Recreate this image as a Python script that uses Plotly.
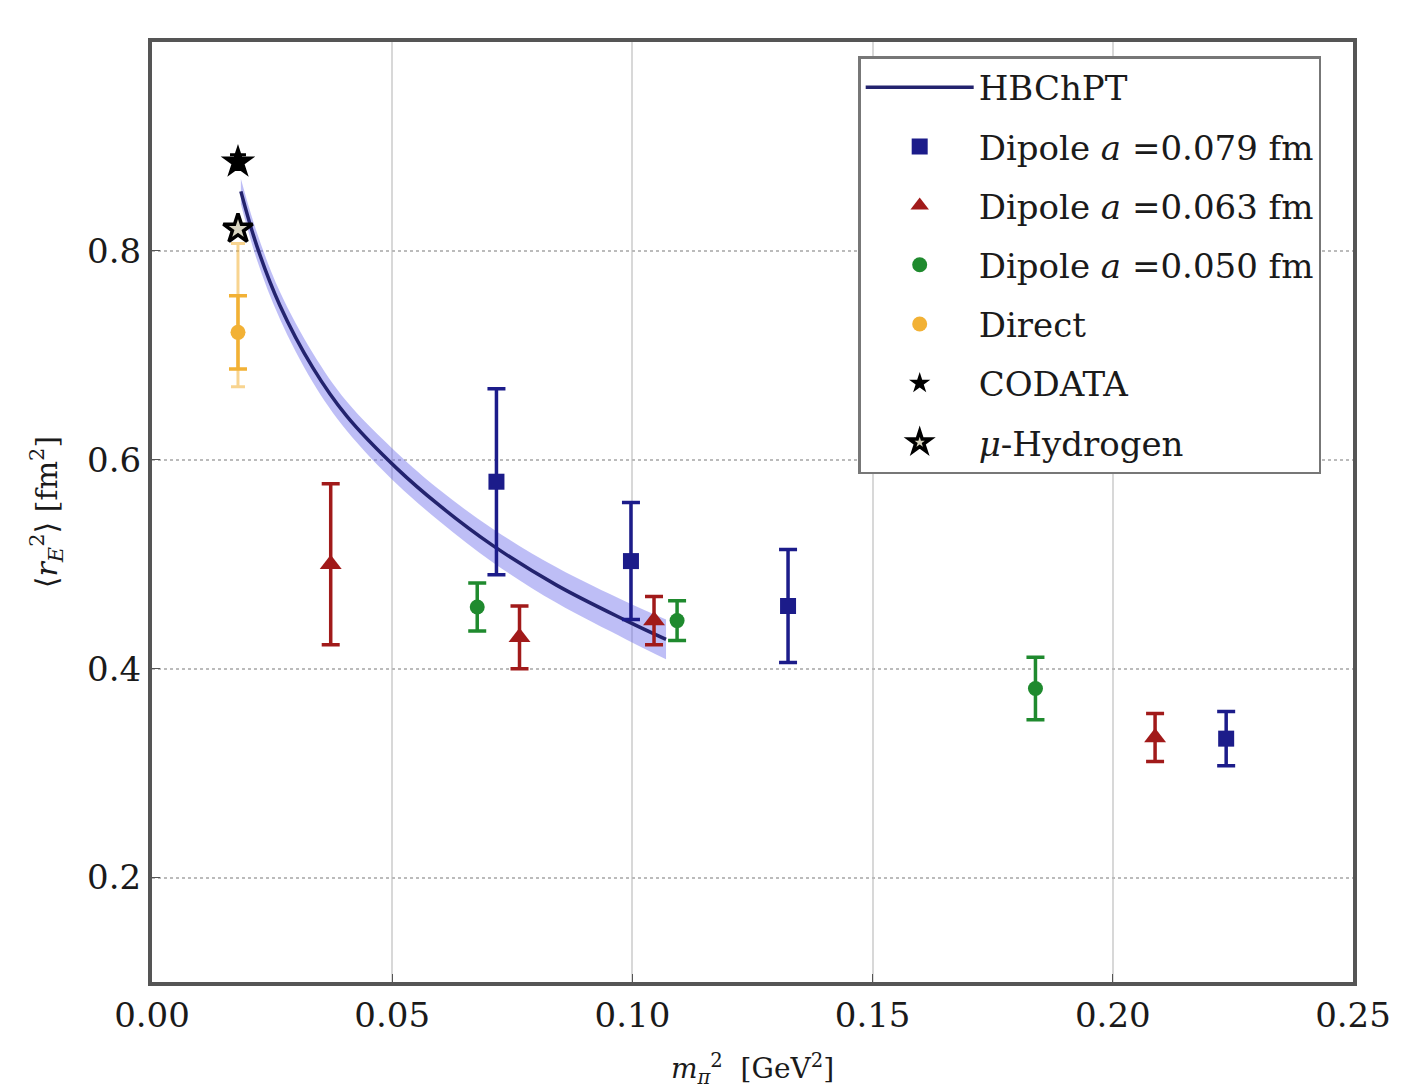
import plotly.graph_objects as go

# ---- data ----
curve_x = [0.0185, 0.0218, 0.0266, 0.0335, 0.0405, 0.0509, 0.0599, 0.0709, 0.0842, 0.0987, 0.107]
curve_y = [0.857, 0.805, 0.748, 0.688, 0.642, 0.592, 0.556, 0.518, 0.480, 0.446, 0.428]
curve_band = [0.012, 0.013, 0.013, 0.014, 0.014, 0.015, 0.015, 0.016, 0.017, 0.018, 0.019]

d079_x = [0.0717, 0.0997, 0.1324, 0.2236]
d079_y = [0.579, 0.503, 0.460, 0.333]
d079_e = [0.089, 0.056, 0.054, 0.026]

d063_x = [0.0372, 0.0765, 0.1045, 0.2088]
d063_y = [0.500, 0.430, 0.446, 0.334]
d063_e = [0.077, 0.030, 0.023, 0.023]

d050_x = [0.0677, 0.1093, 0.1839]
d050_y = [0.459, 0.446, 0.381]
d050_e = [0.023, 0.019, 0.030]

direct_x = [0.0179]
direct_y = [0.722]
direct_e = [0.035]
direct_sys_plus = [0.085]
direct_sys_minus = [0.052]

codata_x = [0.0179]
codata_y = [0.885]
codata_e = [0.007]

muh_x = [0.0179]
muh_y = [0.821]

x_ticks = [0.00, 0.05, 0.10, 0.15, 0.20, 0.25]
x_tick_labels = ["0.00", "0.05", "0.10", "0.15", "0.20", "0.25"]
y_ticks = [0.2, 0.4, 0.6, 0.8]
y_tick_labels = ["0.2", "0.4", "0.6", "0.8"]

FONT = "DejaVu Serif"
NAVY = "#1c1c8a"
RED = "#a11a1a"
GREEN = "#1f8a2e"
ORANGE = "#f2b135"
TXT = "#1a1a1a"

fig = go.Figure()

upper = [y + b for y, b in zip(curve_y, curve_band)]
lower = [y - b for y, b in zip(curve_y, curve_band)]
fig.add_trace(go.Scatter(x=curve_x, y=upper, mode="lines", line=dict(width=0, color="rgba(90,90,230,0.45)"),
                         line_shape="spline", showlegend=False, hoverinfo="skip"))
fig.add_trace(go.Scatter(x=curve_x, y=lower, mode="lines", line=dict(width=0, color="rgba(90,90,230,0.45)"),
                         line_shape="spline", fill="tonexty", fillcolor="rgba(110,110,235,0.45)",
                         showlegend=False, hoverinfo="skip"))
fig.add_trace(go.Scatter(x=curve_x, y=curve_y, mode="lines", name="HBChPT", line_shape="spline",
                         line=dict(color="#23236e", width=3.5), legendgroup="g1"))

def err_trace(x, y, e, name, color, symbol, size, group):
    return go.Scatter(x=x, y=y, mode="markers", name=name, legendgroup=group,
                      marker=dict(symbol=symbol, size=size, color=color, line=dict(width=0)),
                      error_y=dict(type="data", array=e, visible=True, color=color, thickness=3.5, width=9))

fig.add_trace(err_trace(d079_x, d079_y, d079_e, "Dipole <i>a</i> =0.079 fm", NAVY, "square", 16, "g2"))
fig.add_trace(err_trace(d063_x, d063_y, d063_e, "Dipole <i>a</i> =0.063 fm", RED, "triangle-up", 19, "g3"))
fig.add_trace(err_trace(d050_x, d050_y, d050_e, "Dipole <i>a</i> =0.050 fm", GREEN, "circle", 15, "g4"))

fig.add_trace(go.Scatter(x=direct_x, y=direct_y, mode="markers", showlegend=False, hoverinfo="skip",
                         marker=dict(size=1, color="rgba(0,0,0,0)"),
                         error_y=dict(type="data", array=direct_sys_plus, arrayminus=direct_sys_minus,
                                      visible=True, color="rgba(242,177,53,0.55)", thickness=3, width=7)))
fig.add_trace(err_trace(direct_x, direct_y, direct_e, "Direct", ORANGE, "circle", 15, "g5"))

fig.add_trace(go.Scatter(x=codata_x, y=codata_y, mode="markers", name="CODATA", legendgroup="g6",
                         marker=dict(symbol="star", size=26, color="black", line=dict(width=0)),
                         error_y=dict(type="data", array=codata_e, visible=True, color="black", thickness=3, width=8)))
fig.add_trace(go.Scatter(x=muh_x, y=muh_y, mode="markers", name="<i>μ</i>-Hydrogen", legendgroup="g7",
                         marker=dict(symbol="star", size=22, color="#d8d4c0", line=dict(width=3.5, color="black"))))

fig.update_layout(
    width=1403, height=1092,
    margin=dict(l=152, r=48, t=42, b=107),
    paper_bgcolor="white", plot_bgcolor="white",
    font=dict(family=FONT, size=30, color=TXT),
    showlegend=True,
    legend=dict(x=0.588, y=0.985, xanchor="left", yanchor="top",
                bgcolor="white", bordercolor="#777777", borderwidth=2.5,
                font=dict(family=FONT, size=34, color=TXT),
                traceorder="grouped", tracegroupgap=12, itemwidth=108),
    xaxis=dict(range=[0, 0.25], tickmode="array", tickvals=x_ticks, ticktext=x_tick_labels,
               showgrid=True, gridcolor="#d8d8d8", gridwidth=1.5,
               showline=True, linecolor="#555555", linewidth=4, mirror=True,
               ticks="inside", ticklen=8, tickcolor="#555555", zeroline=False,
               tickfont=dict(family=FONT, size=34, color=TXT),
               title=dict(text="<i>m</i><sub><i>π</i></sub><sup>2</sup>  [GeV<sup>2</sup>]", standoff=26,
                          font=dict(family=FONT, size=28, color=TXT))),
    yaxis=dict(range=[0.1, 1.0], tickmode="array", tickvals=y_ticks, ticktext=y_tick_labels,
               showgrid=True, gridcolor="#bbbbbb", gridwidth=1.5, griddash="dot",
               showline=True, linecolor="#555555", linewidth=4, mirror=True,
               ticks="inside", ticklen=8, tickcolor="#555555", zeroline=False,
               tickfont=dict(family=FONT, size=34, color=TXT),
               title=dict(text="⟨<i>r</i><sub><i>E</i></sub><sup>2</sup>⟩ [fm<sup>2</sup>]", standoff=22,
                          font=dict(family=FONT, size=30, color=TXT))),
)

fig.write_html("out.html")
